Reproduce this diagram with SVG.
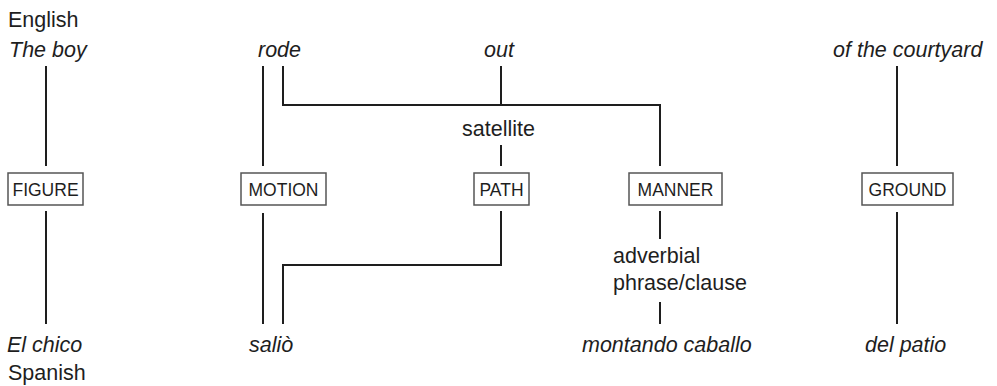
<svg xmlns="http://www.w3.org/2000/svg" width="997" height="386" viewBox="0 0 997 386">
  <style>
    .word { font-family: "Liberation Sans", Arial, sans-serif; font-size: 21.5px; fill: #1e1e1e; }
    .it { font-style: italic; }
    .box { fill: #ffffff; stroke: #555555; stroke-width: 1.5; }
    .lbl { font-family: "Liberation Sans", Arial, sans-serif; font-size: 17.5px; fill: #1e1e1e; text-anchor: middle; }
    .wire { fill: none; stroke: #1e1e1e; stroke-width: 2; }
  </style>
  <rect width="997" height="386" fill="#ffffff"/>

  <!-- connectors -->
  <g id="connectors">
    <!-- figure -->
    <path class="wire" d="M46 66 V166"/>
    <path class="wire" d="M46 211 V324"/>
    <!-- motion -->
    <path class="wire" d="M263 66 V166"/>
    <path class="wire" d="M263 213 V324"/>
    <!-- rode to manner -->
    <path class="wire" d="M283 66 V105 H660 V166"/>
    <!-- out to satellite -->
    <path class="wire" d="M501 66 V105"/>
    <path class="wire" d="M501 145 V166"/>
    <!-- path to salio -->
    <path class="wire" d="M501 211 V265 H283 V324"/>
    <!-- manner to adverbial -->
    <path class="wire" d="M660 211 V239"/>
    <path class="wire" d="M660 302 V324"/>
    <!-- ground -->
    <path class="wire" d="M897 66 V166"/>
    <path class="wire" d="M897 212 V324"/>
  </g>

  <!-- language labels -->
  <g id="english"><text class="word" x="8" y="27">English</text></g>
  <g id="spanish"><text class="word" x="8" y="380">Spanish</text></g>

  <!-- English words -->
  <g id="the-boy"><text class="word it" x="9" y="57">The boy</text></g>
  <g id="rode"><text class="word it" x="258" y="57">rode</text></g>
  <g id="out"><text class="word it" x="484" y="57">out</text></g>
  <g id="of-the-courtyard"><text class="word it" x="833" y="57">of the courtyard</text></g>

  <!-- intermediate labels -->
  <g id="satellite"><text class="word" x="462" y="136">satellite</text></g>
  <g id="adverbial">
    <text class="word" x="613" y="263">adverbial</text>
    <text class="word" x="613" y="290">phrase/clause</text>
  </g>

  <!-- semantic component boxes -->
  <g id="figure">
    <rect class="box" x="8" y="173" width="75" height="32"/>
    <text class="lbl" x="45.5" y="195.5">FIGURE</text>
  </g>
  <g id="motion">
    <rect class="box" x="241" y="173" width="85" height="32"/>
    <text class="lbl" x="283.5" y="195.5">MOTION</text>
  </g>
  <g id="path">
    <rect class="box" x="474" y="173" width="55" height="32"/>
    <text class="lbl" x="501.5" y="195.5">PATH</text>
  </g>
  <g id="manner">
    <rect class="box" x="629" y="173" width="93" height="32"/>
    <text class="lbl" x="675.5" y="195.5">MANNER</text>
  </g>
  <g id="ground">
    <rect class="box" x="862" y="173" width="91" height="32"/>
    <text class="lbl" x="907.5" y="195.5">GROUND</text>
  </g>

  <!-- Spanish words -->
  <g id="el-chico"><text class="word it" x="7" y="352">El chico</text></g>
  <g id="salio"><text class="word it" x="249" y="352">saliò</text></g>
  <g id="montando-caballo"><text class="word it" x="582" y="352">montando caballo</text></g>
  <g id="del-patio"><text class="word it" x="865" y="352">del patio</text></g>
</svg>
